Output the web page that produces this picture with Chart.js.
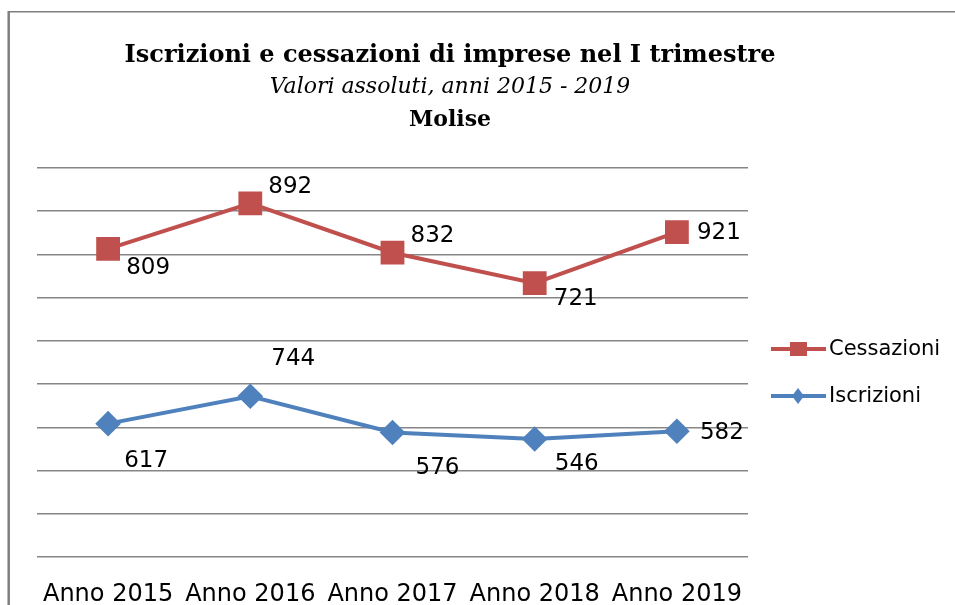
<!DOCTYPE html>
<html>
<head>
<meta charset="utf-8">
<script src="https://cdn.jsdelivr.net/npm/chart.js@4.4.0/dist/chart.umd.min.js"></script>
<style>
  html, body { margin: 0; padding: 0; background: #fff; }
</style>
</head>
<body>
<canvas id="grafico" width="955" height="605"></canvas>
<script>
const anni = ['Anno 2015', 'Anno 2016', 'Anno 2017', 'Anno 2018', 'Anno 2019'];
const iscrizioni = [617, 744, 576, 546, 582];
const cessazioni = [809, 892, 832, 721, 921];
const titolo = 'Iscrizioni e cessazioni di imprese nel I trimestre';
const sottotitolo = 'Valori assoluti, anni 2015 - 2019';
const regione = 'Molise';

// spostamento delle etichette rispetto al punto (px)
const posIscr = [[38, 37], [43, -37], [45, 36], [42, 25], [45, 2]];
const posCess = [[40, 19], [40, -16], [40, -17], [41, 16], [42, 1]];

const cornice = {
  id: 'cornice',
  beforeDraw(chart) {
    const c = chart.ctx;
    c.save();
    c.strokeStyle = '#7f7f7f';
    c.lineWidth = 2.5;
    c.beginPath(); c.moveTo(8.7, 11); c.lineTo(8.7, 605); c.stroke();
    c.lineWidth = 1.5;
    c.beginPath(); c.moveTo(8, 11.8); c.lineTo(955, 11.8); c.stroke();
    c.fillStyle = '#000';
    c.textAlign = 'center';
    c.textBaseline = 'alphabetic';
    c.font = 'bold 24px "DejaVu Serif"';
    c.fillText(titolo, 450, 62);
    c.font = 'italic 22px "DejaVu Serif"';
    c.fillText(sottotitolo, 450, 93);
    c.font = 'bold 22px "DejaVu Serif"';
    c.fillText(regione, 450, 126);
    c.restore();
  }
};

const etichette = {
  id: 'etichette',
  afterDatasetsDraw(chart) {
    const c = chart.ctx;
    c.save();
    c.font = '23px "DejaVu Sans"';
    c.fillStyle = '#000';
    c.textAlign = 'center';
    c.textBaseline = 'middle';
    chart.data.datasets.forEach((ds, i) => {
      const meta = chart.getDatasetMeta(i);
      meta.data.forEach((p, j) => {
        const off = ds.posEtichette[j];
        c.fillText(ds.data[j], p.x + off[0], p.y + off[1]);
      });
    });
    c.restore();
  }
};

const legenda = {
  id: 'legenda',
  afterDraw(chart) {
    const c = chart.ctx;
    const voci = chart.data.datasets.slice().reverse();
    c.save();
    voci.forEach((ds, k) => {
      const y = 349 + k * 47;
      c.strokeStyle = ds.borderColor;
      c.fillStyle = ds.borderColor;
      c.lineWidth = 4;
      c.beginPath(); c.moveTo(771, y); c.lineTo(826, y); c.stroke();
      if (ds.pointStyle === 'rect') {
        c.fillRect(790, y - 7, 17, 14);
      } else {
        c.beginPath();
        c.moveTo(798, y - 8); c.lineTo(804, y); c.lineTo(798, y + 8); c.lineTo(792, y);
        c.closePath(); c.fill();
      }
      c.fillStyle = '#000';
      c.font = '21px "DejaVu Sans"';
      c.textAlign = 'left';
      c.textBaseline = 'middle';
      c.fillText(ds.label, 829, y + 1);
    });
    c.restore();
  }
};

new Chart(document.getElementById('grafico').getContext('2d'), {
  type: 'line',
  data: {
    labels: anni,
    datasets: [{
      label: 'Iscrizioni',
      data: iscrizioni,
      borderColor: '#4F81BD',
      backgroundColor: '#4F81BD',
      borderWidth: 4,
      pointStyle: 'rectRot',
      pointRadius: 10,
      pointHoverRadius: 10,
      posEtichette: posIscr
    }, {
      label: 'Cessazioni',
      data: cessazioni,
      borderColor: '#C0504D',
      backgroundColor: '#C0504D',
      borderWidth: 4,
      pointStyle: 'rect',
      pointRadius: 14,
      pointHoverRadius: 14,
      posEtichette: posCess
    }]
  },
  options: {
    responsive: false,
    animation: false,
    layout: { padding: { left: 37, right: 207, top: 168, bottom: 0 } },
    scales: {
      x: {
        offset: true,
        grid: { display: false },
        border: { display: false },
        ticks: {
          font: { family: 'DejaVu Sans', size: 24 },
          color: '#000',
          padding: 15,
          maxRotation: 0,
          autoSkip: false
        },
        afterFit(scale) { scale.height = 48; }
      },
      y: {
        stacked: true,
        min: 0,
        max: 1800,
        ticks: { display: false, stepSize: 200 },
        grid: { color: '#868686', lineWidth: 1.5, drawTicks: false },
        border: { display: false },
        afterFit(scale) { scale.width = 0; }
      }
    },
    plugins: {
      legend: { display: false },
      tooltip: { enabled: false }
    }
  },
  plugins: [cornice, etichette, legenda]
});
</script>
</body>
</html>
